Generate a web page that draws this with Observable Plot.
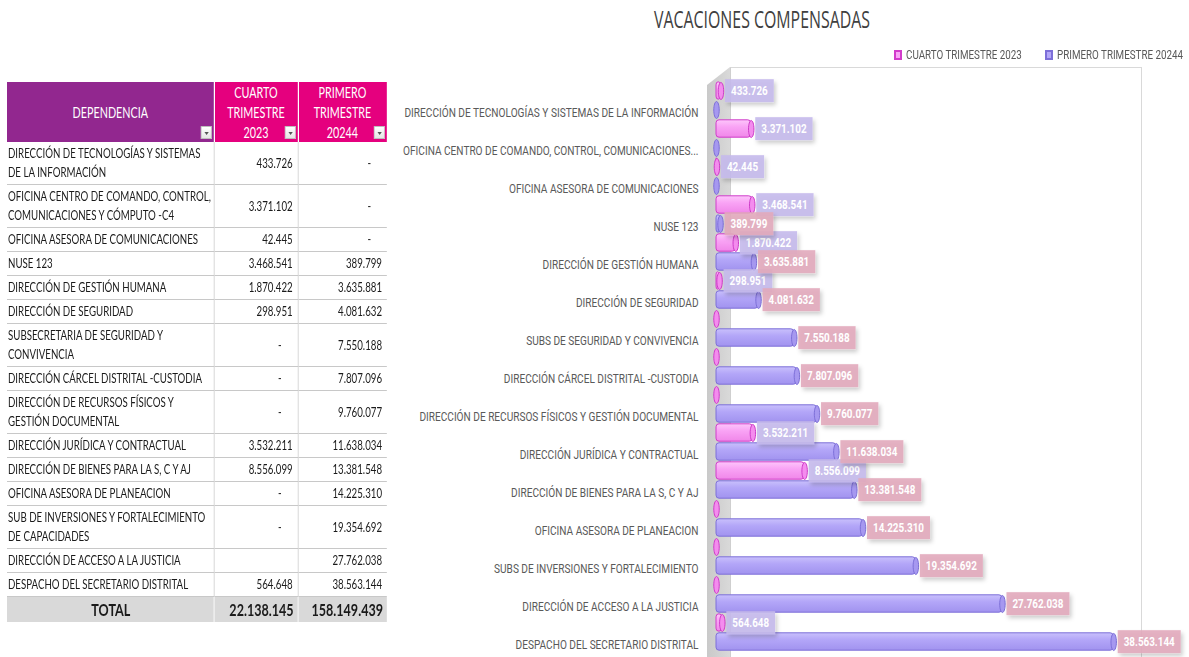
<!DOCTYPE html>
<html lang="es">
<head>
<meta charset="utf-8">
<script src="https://cdn.jsdelivr.net/npm/d3@7"></script>
<script src="https://cdn.jsdelivr.net/npm/@observablehq/plot@0.6"></script>
<style>
html,body{margin:0;padding:0;background:#fff;}
body{width:1189px;height:657px;overflow:hidden;position:relative;}
#titulo{position:absolute;top:2px;left:762px;white-space:nowrap;font-family:"Open Sans",sans-serif;font-size:24px;color:#404040;transform-origin:0 0;}
#leyenda{position:absolute;top:47px;left:894px;font-family:Roboto,sans-serif;font-size:12px;color:#595959;}
.mk{position:absolute;top:3px;box-sizing:border-box;width:8px;height:10px;border:2px solid;}
.lt{position:absolute;top:0;white-space:nowrap;line-height:16px;transform-origin:0 0;}
#pared{position:absolute;left:707px;top:67px;width:23px;height:590px;background:linear-gradient(90deg,#c9c9c9,#d9d9d9);clip-path:polygon(0 18px,100% 0,100% 100%,0 100%);}
#marco{position:absolute;left:730px;top:67px;width:410px;height:600px;border-top:1px solid #d9d9d9;border-right:1px solid #d9d9d9;border-left:1px solid #cfcfcf;}
#grafico{position:absolute;left:390px;top:60px;}
#tabla-wrap{position:absolute;left:7px;top:82px;transform-origin:0 0;}
table{border-collapse:collapse;table-layout:fixed;font-family:Lato,sans-serif;font-size:13.5px;color:#1a1a1a;}
th{color:#fff;font-weight:normal;font-size:15px;position:relative;height:60px;padding:0;line-height:20px;border-right:1px solid #fff;}
th.dep{background:#92278f;}
th.num{background:#e5007e;}
td{border-bottom:1px solid #c8c8c8;padding:2px 0;line-height:19px;vertical-align:middle;}
td.num{text-align:right;border-left:1px solid #c8c8c8;}
tr.total td{background:#d9d9d9;font-weight:bold;font-size:17.5px;line-height:21px;height:21px;border-bottom:none;border-left:1px solid #fff;}
tr.total td.dep{text-align:center;border-left:none;}
.filtro{position:absolute;right:2px;bottom:3px;width:12px;height:13px;box-sizing:border-box;background:linear-gradient(#fff,#e6e6e6);border:1px solid #bdbdbd;}
.filtro:after{content:"";position:absolute;left:3px;top:5px;border-left:2.5px solid transparent;border-right:2.5px solid transparent;border-top:3px solid #555;}
</style>
</head>
<body>
<div id="titulo"></div>
<div id="leyenda"></div>
<div id="tabla-wrap"></div>
<div id="pared"></div>
<div id="marco"></div>
<div id="grafico"></div>
<script>
// ---------- DATOS ----------
const dependencias = [
  "DIRECCIÓN DE TECNOLOGÍAS Y SISTEMAS DE LA INFORMACIÓN",
  "OFICINA CENTRO DE COMANDO, CONTROL, COMUNICACIONES Y CÓMPUTO -C4",
  "OFICINA ASESORA DE COMUNICACIONES",
  "NUSE 123",
  "DIRECCIÓN DE GESTIÓN HUMANA",
  "DIRECCIÓN DE SEGURIDAD",
  "SUBSECRETARIA DE SEGURIDAD Y CONVIVENCIA",
  "DIRECCIÓN CÁRCEL DISTRITAL -CUSTODIA",
  "DIRECCIÓN DE RECURSOS FÍSICOS Y GESTIÓN DOCUMENTAL",
  "DIRECCIÓN JURÍDICA Y CONTRACTUAL",
  "DIRECCIÓN DE BIENES PARA LA S, C Y AJ",
  "OFICINA ASESORA DE PLANEACION",
  "SUB DE INVERSIONES Y FORTALECIMIENTO DE CAPACIDADES",
  "DIRECCIÓN DE ACCESO A LA JUSTICIA",
  "DESPACHO DEL SECRETARIO DISTRITAL"
];
const etiquetasGrafico = [
  "DIRECCIÓN DE TECNOLOGÍAS Y SISTEMAS DE LA INFORMACIÓN",
  "OFICINA CENTRO DE COMANDO, CONTROL, COMUNICACIONES...",
  "OFICINA ASESORA DE COMUNICACIONES",
  "NUSE 123",
  "DIRECCIÓN DE GESTIÓN HUMANA",
  "DIRECCIÓN DE SEGURIDAD",
  "SUBS DE SEGURIDAD Y CONVIVENCIA",
  "DIRECCIÓN CÁRCEL DISTRITAL -CUSTODIA",
  "DIRECCIÓN DE RECURSOS FÍSICOS Y GESTIÓN DOCUMENTAL",
  "DIRECCIÓN JURÍDICA Y CONTRACTUAL",
  "DIRECCIÓN DE BIENES PARA LA S, C Y AJ",
  "OFICINA ASESORA DE PLANEACION",
  "SUBS DE INVERSIONES Y FORTALECIMIENTO",
  "DIRECCIÓN DE ACCESO A LA JUSTICIA",
  "DESPACHO DEL SECRETARIO DISTRITAL"
];
const series = ["CUARTO TRIMESTRE 2023", "PRIMERO TRIMESTRE 20244"];
const cuarto2023 = [433726, 3371102, 42445, 3468541, 1870422, 298951, 0, 0, 0, 3532211, 8556099, 0, 0, null, 564648];
const primero2024 = [0, 0, 0, 389799, 3635881, 4081632, 7550188, 7807096, 9760077, 11638034, 13381548, 14225310, 19354692, 27762038, 38563144];
const tituloTexto = "VACACIONES COMPENSADAS";
const encabezadoDependencia = "DEPENDENCIA";
const etiquetaTotal = "TOTAL";

// ---------- FORMATO ----------
const loc = d3.formatLocale({decimal: ",", thousands: ".", grouping: [3], currency: ["$", ""]});
const fmt = loc.format(",");
const ctx = document.createElement("canvas").getContext("2d");
const medir = (txt, font) => { ctx.font = font; return ctx.measureText(txt).width; };

// ---------- TÍTULO ----------
const tit = document.getElementById("titulo");
tit.textContent = tituloTexto;
{
  const w = tit.getBoundingClientRect().width;
  tit.style.transform = `translateX(-108px) scaleX(${216 / w})`;
}

// ---------- LEYENDA ----------
const leyenda = document.getElementById("leyenda");
const colMk = [["#f9a3f5", "#d23bcb"], ["#b3a6f8", "#7d6fd8"]];
const posLey = [0, 151];
const fLey = 116 / medir(series[0], "12px Roboto");
series.forEach((s, i) => {
  const m = document.createElement("div");
  m.className = "mk";
  m.style.left = posLey[i] + "px";
  m.style.background = colMk[i][0];
  m.style.borderColor = colMk[i][1];
  leyenda.appendChild(m);
  const t = document.createElement("div");
  t.className = "lt";
  t.style.left = (posLey[i] + 12) + "px";
  t.style.transform = `scaleX(${fLey})`;
  t.textContent = s;
  leyenda.appendChild(t);
});

// ---------- TABLA ----------
const sc = 191 / medir("OFICINA ASESORA DE COMUNICACIONES", "13.5px Lato");
const celda = v => v === null ? "" : v === 0 ? `<span style="padding-right:${11/sc}px">-</span>` : fmt(v);
const wrap = document.getElementById("tabla-wrap");
const extra = document.createElement("style");
extra.textContent = `
 td.dep{padding-left:${1/sc}px;}
 td.num{padding-right:${5/sc}px;}
 tr.total td.num{padding-right:${4/sc}px;}
 .filtro{width:${12/sc*0.9}px;right:${2/sc}px}
 .filtro:after{left:${3/sc*0.9}px;border-left-width:${2.5/sc}px;border-right-width:${2.5/sc}px}
`;
document.head.appendChild(extra);
let html = `<table style="width:${380/sc}px"><colgroup><col style="width:${207/sc}px"><col style="width:${84/sc}px"><col style="width:${89/sc}px"></colgroup>`;
html += `<thead><tr><th class="dep">${encabezadoDependencia}<div class="filtro"></div></th>` +
  series.map(s => `<th class="num">${s.split(" ").join("<br>")}<div class="filtro"></div></th>`).join("") + `</tr></thead><tbody>`;
dependencias.forEach((d, i) => {
  html += `<tr><td class="dep">${d}</td><td class="num">${celda(cuarto2023[i])}</td><td class="num">${celda(primero2024[i])}</td></tr>`;
});
html += `<tr class="total"><td class="dep">${etiquetaTotal}</td><td class="num">${fmt(d3.sum(cuarto2023))}</td><td class="num">${fmt(d3.sum(primero2024))}</td></tr></tbody></table>`;
wrap.innerHTML = html;
wrap.style.transform = `scaleX(${sc})`;

// ---------- GRÁFICO ----------
const datos = etiquetasGrafico.flatMap((e, i) => [
  {cat: e, serie: series[0], valor: cuarto2023[i] ?? 0},
  {cat: e, serie: series[1], valor: primero2024[i] ?? 0}
]);
const elipse = {
  draw(c, size) {
    const r = Math.sqrt(size / Math.PI), rx = r * 0.32, ry = r, k = 0.5523;
    c.moveTo(rx, 0);
    c.bezierCurveTo(rx, ry * k, rx * k, ry, 0, ry);
    c.bezierCurveTo(-rx * k, ry, -rx, ry * k, -rx, 0);
    c.bezierCurveTo(-rx, -ry * k, -rx * k, -ry, 0, -ry);
    c.bezierCurveTo(rx * k, -ry, rx, -ry * k, rx, 0);
    c.closePath();
  }
};
const estilos = [
  {fill: "#f9a3f5", stroke: "#cf3cc9", cap: "#f48cee", caja: "rgba(197,186,236,0.9)", id: "cuarto"},
  {fill: "#b3a6f8", stroke: "#7d6fd8", cap: "#a698f0", caja: "rgba(226,170,188,0.9)", id: "primero"}
];
const marcas = [
  Plot.text(etiquetasGrafico, {fy: d => d, text: d => d, frameAnchor: "left", textAnchor: "end", dx: -18, dy: 13, fontSize: 12, fill: "#595959"})
];
series.forEach((s, i) => {
  const st = estilos[i];
  const sub = datos.filter(d => d.serie === s);
  marcas.push(
    Plot.barX(sub.filter(d => d.valor > 0), {x: "valor", y: "serie", fy: "cat", fill: st.fill, stroke: st.stroke, strokeWidth: 1, insetTop: 0.8, insetBottom: 0.8, rx: 3}),
    Plot.dot(sub, {x: "valor", y: "serie", fy: "cat", symbol: elipse, r: 8.5, fill: st.cap, stroke: st.stroke, strokeWidth: 1})
  );
});
series.forEach((s, i) => {
  marcas.push(
    Plot.text(datos.filter(d => d.serie === s && d.valor > 0), {x: "valor", y: "serie", fy: "cat", text: d => fmt(d.valor), dx: 10, textAnchor: "start", fill: "white", fontWeight: "bold", fontSize: 13})
  );
});

const chart = Plot.plot({
  width: 799, height: 597,
  marginLeft: 326, marginRight: 61, marginTop: 17, marginBottom: 3,
  x: {domain: [0, 40000000], axis: null},
  y: {domain: series, axis: null, padding: 0},
  fy: {domain: etiquetasGrafico, axis: null, padding: 0},
  style: {fontFamily: "Roboto, sans-serif", background: "transparent", overflow: "visible"},
  marks: marcas
});
document.getElementById("grafico").appendChild(chart);

// ---------- DECORACIÓN 3D / CAJAS DE ETIQUETAS ----------
const svgns = "http://www.w3.org/2000/svg";
const defs = document.createElementNS(svgns, "defs");
defs.innerHTML = `
<linearGradient id="g-cuarto" x1="0" y1="0" x2="0" y2="1"><stop offset="0" stop-color="#fdc6fb"/><stop offset="0.4" stop-color="#f9a3f5"/><stop offset="1" stop-color="#f087e9"/></linearGradient>
<linearGradient id="g-primero" x1="0" y1="0" x2="0" y2="1"><stop offset="0" stop-color="#c9c0fc"/><stop offset="0.4" stop-color="#b3a6f8"/><stop offset="1" stop-color="#a193ef"/></linearGradient>
<filter id="sombra" x="-20%" y="-40%" width="150%" height="200%"><feDropShadow dx="2" dy="3" stdDeviation="2" flood-color="#000" flood-opacity="0.22"/></filter>`;
chart.insertBefore(defs, chart.firstChild);
estilos.forEach(st => {
  chart.querySelectorAll(`g[fill="${st.fill}"] rect`).forEach(r => r.setAttribute("fill", `url(#g-${st.id})`));
});
const setCuarto = new Set(cuarto2023.filter(v => v > 0).map(fmt));
const setPrimero = new Set(primero2024.filter(v => v > 0).map(fmt));
const setCat = new Set(etiquetasGrafico);
const textos = [...chart.querySelectorAll("text")];
const primeraCat = textos.find(t => t.textContent === etiquetasGrafico[0]);
const fCat = primeraCat ? 294 / primeraCat.getComputedTextLength() : 1;
const muestra = textos.find(t => t.textContent === fmt(38563144));
const fVal = muestra ? 51 / muestra.getComputedTextLength() : 1;
const comprimir = (t, f) => {
  const w = t.getComputedTextLength() * f;
  t.setAttribute("textLength", w);
  t.setAttribute("lengthAdjust", "spacingAndGlyphs");
  return w;
};
textos.forEach(t => {
  const s = t.textContent;
  if (setCat.has(s)) comprimir(t, fCat);
  else if (setCuarto.has(s) || setPrimero.has(s)) {
    const b0 = t.getBBox();
    const w = comprimir(t, fVal);
    const r = document.createElementNS(svgns, "rect");
    r.setAttribute("x", b0.x - 6);
    r.setAttribute("y", b0.y - 4);
    r.setAttribute("width", w + 12);
    r.setAttribute("height", b0.height + 8);
    r.setAttribute("fill", setCuarto.has(s) ? estilos[0].caja : estilos[1].caja);
    r.setAttribute("filter", "url(#sombra)");
    if (t.getAttribute("transform")) r.setAttribute("transform", t.getAttribute("transform"));
    t.parentNode.insertBefore(r, t);
  }
});
</script>
</body>
</html>
